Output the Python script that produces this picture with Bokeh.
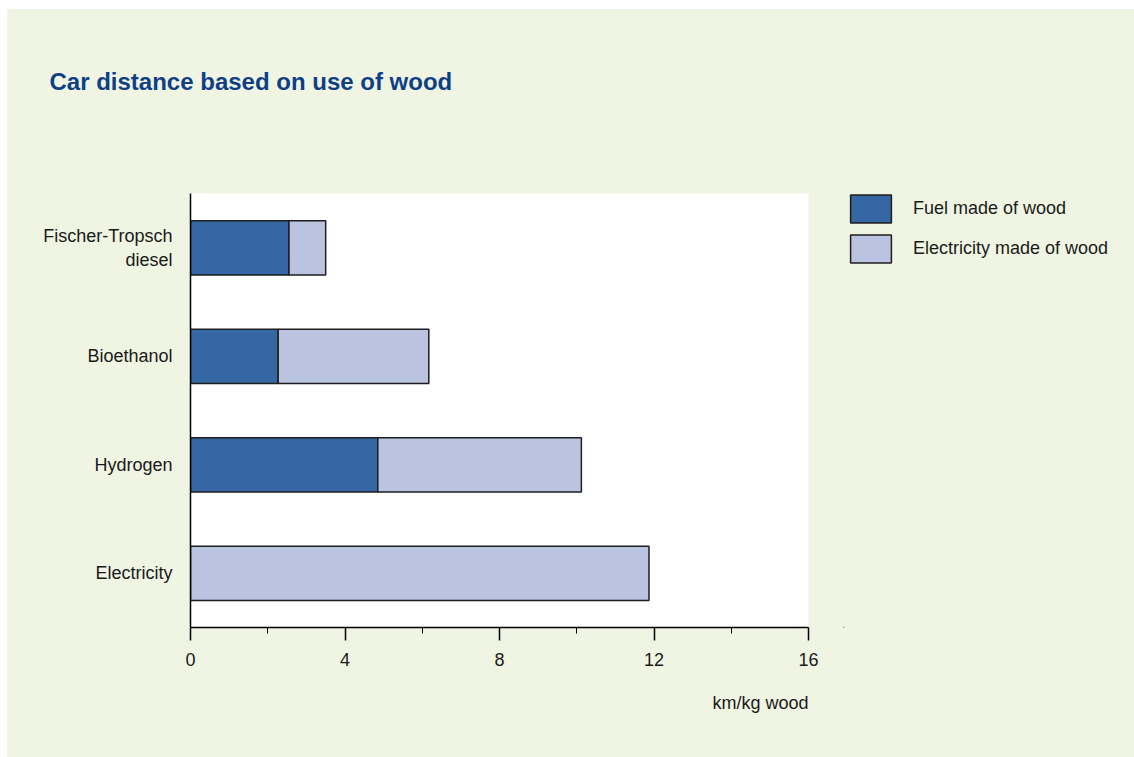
from bokeh.plotting import figure
from bokeh.layouts import row
from bokeh.models import (ColumnDataSource, FixedTicker, Range1d, Legend, LegendItem, Title)
from bokeh.embed import file_html
from bokeh.resources import INLINE

# ---- data ----
categories = ["Fischer-Tropsch\ndiesel", "Bioethanol", "Hydrogen", "Electricity"]
fuel_km = [2.55, 2.27, 4.85, 0.0]
elec_km = [0.95, 3.90, 5.27, 11.87]
series_names = ["Fuel made of wood", "Electricity made of wood"]
x_ticks = [0, 4, 8, 12, 16]
x_minor = [2, 6, 10, 14]

BG = "#F0F5E3"
DARK = "#3467A3"
LIGHT = "#BAC3E0"
EDGE = "#1e1e1e"
TXT = "#1a1a1a"
FONT = "Liberation Sans"

n = len(categories)
ypos = [n - 0.5 - i for i in range(n)]
src = ColumnDataSource(dict(y=ypos, fuel=fuel_km, elec=elec_km))

p = figure(width=836, height=748, output_backend="svg", toolbar_location=None,
           x_range=Range1d(0, 16), y_range=Range1d(0, n),
           min_border_left=183, min_border_right=35, min_border_top=184, min_border_bottom=130)
p.background_fill_color = "white"
p.border_fill_color = BG
p.outline_line_color = None
p.xgrid.grid_line_color = None
p.ygrid.grid_line_color = None

rs = p.hbar_stack(["fuel", "elec"], y="y", height=0.5, source=src,
                  fill_color=[DARK, LIGHT], line_color=EDGE, line_width=1.5)

# x axis
xa = p.xaxis[0]
xa.ticker = FixedTicker(ticks=x_ticks, minor_ticks=x_minor)
xa.axis_line_color = "black"
xa.axis_line_width = 1.5
xa.major_tick_line_color = "black"
xa.major_tick_line_width = 1.5
xa.minor_tick_line_color = "black"
xa.minor_tick_line_width = 1
xa.major_tick_in = 0
xa.major_tick_out = 13
xa.minor_tick_in = 0
xa.minor_tick_out = 6
xa.major_label_standoff = 12
xa.major_label_text_font = FONT
xa.major_label_text_font_size = "18px"
xa.major_label_text_color = TXT

# y axis
ya = p.yaxis[0]
ya.ticker = FixedTicker(ticks=ypos, minor_ticks=[])
ya.major_label_overrides = {y: c for y, c in zip(ypos, categories)}
ya.axis_line_color = "black"
ya.axis_line_width = 1.5
ya.major_tick_line_color = None
ya.major_tick_out = 0
ya.major_tick_in = 0
ya.minor_tick_line_color = None
ya.major_label_standoff = 18
ya.major_label_text_font = FONT
ya.major_label_text_font_size = "18px"
ya.major_label_text_color = TXT

# spacer (closest to frame), then the title further out
spacer = Title(text=" ", standoff=91, text_font=FONT, text_font_size="1px",
               text_color=BG)
p.add_layout(spacer, "above")
t = Title(text="Car distance based on use of wood", align="left", offset=-141,
          standoff=10, text_font=FONT, text_font_style="bold",
          text_font_size="24px", text_color="#0E3F85")
p.add_layout(t, "above")

xl = Title(text="km/kg wood", align="right", standoff=44, text_font=FONT,
           text_font_style="normal", text_font_size="18px", text_color=TXT)
p.add_layout(xl, "below")

# legend panel (its own glyphs sit outside its visible range; only the legend shows)
q = figure(width=291, height=748, output_backend="svg", toolbar_location=None,
           x_range=Range1d(100, 101), y_range=Range1d(100, 101),
           x_axis_location=None, y_axis_location=None, min_border=0)
q.background_fill_color = BG
q.border_fill_color = BG
q.outline_line_color = None
q.xgrid.grid_line_color = None
q.ygrid.grid_line_color = None
l1 = q.hbar(y=[ypos[0]], right=[fuel_km[0]], height=0.5, fill_color=DARK,
            line_color=EDGE, line_width=1.5)
l2 = q.hbar(y=[ypos[0]], right=[elec_km[0]], height=0.5, fill_color=LIGHT,
            line_color=EDGE, line_width=1.5)

legend = Legend(items=[LegendItem(label=series_names[0], renderers=[l1]),
                       LegendItem(label=series_names[1], renderers=[l2])],
                location=(2, 361), orientation="vertical",
                glyph_width=51, glyph_height=35, spacing=5, label_standoff=17,
                padding=0, margin=0, border_line_color=None,
                background_fill_alpha=0, label_text_font=FONT,
                label_text_font_size="18px", label_text_color=TXT,
                label_height=35)
q.add_layout(legend, "center")

layout = row(p, q, spacing=0)
layout.margin = (9, 0, 0, 7)
layout.styles = {"background-color": BG}

open("out.html", "w").write(file_html(layout, INLINE))
